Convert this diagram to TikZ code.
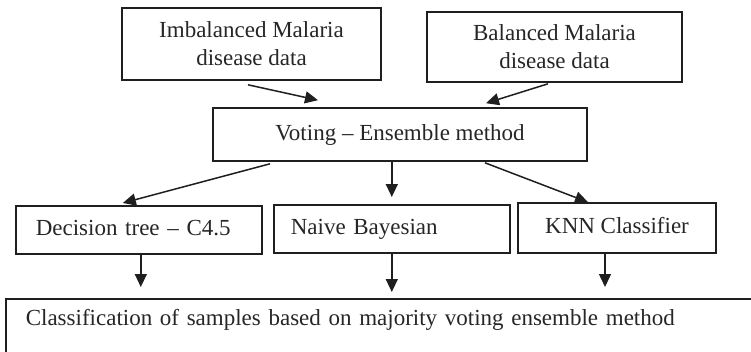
\documentclass[tikz,border=0pt]{standalone}
\usepackage{fontspec}
\setmainfont{Liberation Serif}
\usetikzlibrary{arrows.meta}
\begin{document}
\begin{tikzpicture}[x=1pt,y=-1pt,
  ink/.style={draw=black!88},
  box/.style={ink, rectangle, line width=1.6pt, inner sep=0pt,
    font=\fontsize{23}{28}\selectfont, text=black!85},
  one/.style={box, text height=16pt, text depth=5pt},
  arr/.style={ink, line width=1.5pt, -{Triangle[length=13pt,width=12pt]}}]
  \useasboundingbox (0,0) rectangle (751,351);
  \clip (0,0) rectangle (751,351);

  % inputs
  \node[box, align=center, minimum width=259pt, minimum height=72pt]
    (imb) at (251.5,44) {Imbalanced Malaria\\disease data};
  \node[box, align=center, minimum width=255pt, minimum height=70pt]
    (bal) at (554.5,47) {Balanced Malaria\\disease data};

  % ensemble
  \node[one, minimum width=374pt, minimum height=53pt]
    (vote) at (400,134.5) {Voting -- Ensemble method};

  % base classifiers
  \node[one, anchor=north west, text width=206pt, inner xsep=20pt,
    minimum height=48pt, align=left] (dt) at (15,205) {Decision tree -- C4.5};
  \node[one, anchor=north west, text width=202pt, inner xsep=17pt,
    minimum height=48pt, align=left] (nb) at (273,204) {Naive Bayesian};
  \node[one, minimum width=198pt, minimum height=50pt]
    (knn) at (617,228) {KNN Classifier};

  % result
  \node[box, anchor=north west, text width=740pt, inner xsep=20pt,
    inner ysep=11pt, text height=16pt, text depth=40pt, align=left]
    (res) at (5,298) {Classification of samples based on majority voting ensemble method};

  % connectors
  \draw[arr] ([xshift=-3.5pt,yshift=-4pt]imb.south) -- ([xshift=-82pt,yshift=7pt]vote.north);
  \draw[arr] ([xshift=-6.5pt,yshift=-1pt]bal.south) -- ([xshift=86pt,yshift=4pt]vote.north);
  \draw[arr] ([xshift=-130pt,yshift=-2pt]vote.south) -- ([xshift=-16pt,yshift=2pt]dt.north);
  \draw[arr] (vote.south -| nb.north) -- ([yshift=7pt]nb.north);
  \draw[arr] ([xshift=85pt,yshift=-1pt]vote.south) -- ([xshift=-29pt]knn.north);
  \draw[arr] ([xshift=2pt]dt.south) -- ([xshift=2pt,yshift=11pt]dt.south |- res.north);
  \draw[arr] (nb.south) -- ([yshift=6pt]nb.south |- res.north);
  \draw[arr] ([xshift=-12pt]knn.south) -- ([xshift=-12pt,yshift=11pt]knn.south |- res.north);
\end{tikzpicture}
\end{document}
